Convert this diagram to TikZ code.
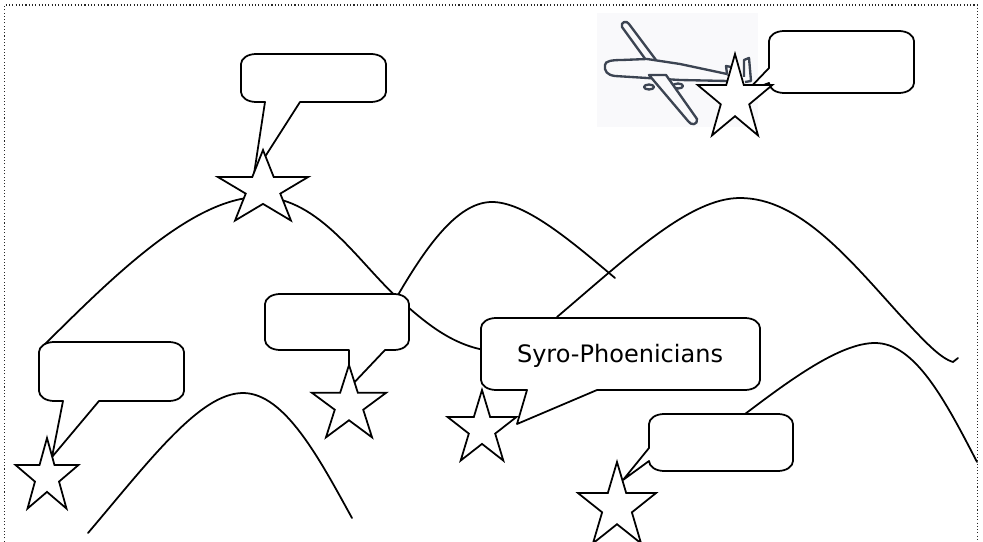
\documentclass[tikz,border=0pt]{standalone}
\usepackage{fontspec}
\setmainfont{DejaVu Sans}

% speech bubble: left, top, right, bottom, tail on the bottom edge, tail on the left edge
\newcommand{\speechbubble}[6]{%
  \draw[bubble] (#1,#4-10) #6 -- (#1,#2+10)
    arc[start angle=180,end angle=270,x radius=15,y radius=10] -- (#3-15,#2)
    arc[start angle=270,end angle=360,x radius=15,y radius=10] -- (#3,#4-10)
    arc[start angle=0,end angle=90,x radius=15,y radius=10] #5 -- (#1+15,#4)
    arc[start angle=90,end angle=180,x radius=15,y radius=10] -- cycle;}

% five-pointed star: centre x, centre y, outer radius, x stretch
\newcommand{\starmark}[4]{%
  \draw[starshape,shift={(#1,#2)},xscale=#4] (0,-#3)
    \foreach \n/\f in {1/.382,2/1,3/.382,4/1,5/.382,6/1,7/.382,8/1,9/.382}{
      -- ({\f*#3*sin(36*\n)},{-\f*#3*cos(36*\n)})} -- cycle;}

\definecolor{planeline}{RGB}{60,68,82}
\definecolor{planebg}{RGB}{249,249,251}

\begin{document}
\begin{tikzpicture}[x=0.03cm, y=-0.03cm,
  hill/.style={line width=1.5pt, line cap=round},
  bubble/.style={draw, fill=white, line width=1.5pt, line join=round},
  starshape/.style={draw, fill=white, line width=1.5pt, line join=miter},
  plane/.style={draw=planeline, line width=2pt, line join=round, fill=planebg},
  border/.style={draw=black!85, line width=0.9pt, dash pattern=on 0.9pt off 1.9pt}]
\useasboundingbox (0,0) rectangle (983,542);
\draw[border] (4.5,545) -- (4.5,5) -- (977.5,5) -- (977.5,545);

% aeroplane
\fill[planebg] (597,13) rectangle (758,127);
\draw[plane] (646,60) -- (622,27) .. controls (620,22) and (627,20) .. (629,24) -- (656,60);
\draw[plane] (605,65) .. controls (605,61) and (612,60) .. (622,60) -- (647,59) -- (680,64)
  -- (727,74) -- (734,78) -- (728,81) -- (680,80) -- (647,78) -- (615,76)
  .. controls (607,75) and (604,71) .. cycle;
\draw[plane] (727,74) -- (726,66) -- (731,67) -- (733,77);
\draw[plane] (744,77) -- (744,60) -- (749,58) -- (751,81) -- (745,82);
\draw[plane] (649,87) ellipse[x radius=5, y radius=2.5];
\draw[plane] (678,86) ellipse[x radius=5, y radius=2.5];
\draw[plane] (649,75) -- (688,121) .. controls (691,126) and (698,125) .. (697,119) -- (666,75) -- cycle;

% hills
\draw[hill] (40,349) .. controls (105,285) and (190,197) .. (260,197)
  .. controls (320,197) and (360,265) .. (400,300)
  .. controls (430,327) and (455,346) .. (490,351);
\draw[hill] (398,295) .. controls (430,240) and (460,202) .. (492,202)
  .. controls (525,202) and (570,240) .. (615,278);
\draw[hill] (557,317) .. controls (630,255) and (690,198) .. (740,198)
  .. controls (800,198) and (850,260) .. (900,315)
  .. controls (925,342) and (940,358) .. (953,362) -- (958,358);
\draw[hill] (88,533) .. controls (150,460) and (200,393) .. (243,393)
  .. controls (285,393) and (320,460) .. (352,518);
\draw[hill] (745,414) .. controls (790,380) and (840,343) .. (875,343)
  .. controls (915,343) and (945,400) .. (977,462);

% speech bubbles
\speechbubble{241}{54}{386}{102}{-- (300,102) -- (254,174) -- (265,102)}{}
\speechbubble{769}{31}{914}{93}{}{-- (769,83) -- (747,91) -- (769,68)}
\speechbubble{39}{342}{184}{401}{-- (99,401) -- (52,457) -- (63,401)}{}
\speechbubble{265}{294}{409}{350}{-- (385,350) -- (349,388) -- (349,350)}{}
\speechbubble{481}{318}{760}{390}{-- (597,390) -- (517,424) -- (527,390)}{}
\speechbubble{649}{414}{793}{471}{}{-- (649,461) -- (623,480) -- (649,448)}

% stars
\starmark{263}{189}{39}{1.22}
\starmark{735}{99}{45}{0.87}
\starmark{47}{477}{39}{0.85}
\starmark{349}{405}{40}{0.98}
\starmark{482}{429}{39}{0.93}
\starmark{617}{507}{45}{0.91}

\node[font=\fontsize{20.5}{24}\selectfont] (syro) at (620,356) {Syro-Phoenicians};
\end{tikzpicture}
\end{document}
